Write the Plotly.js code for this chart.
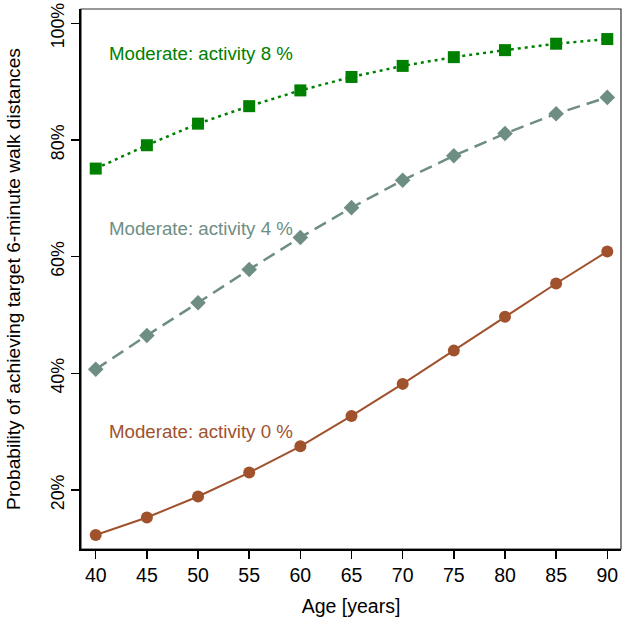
<!DOCTYPE html>
<html>
<head>
<meta charset="utf-8">
<script src="https://cdn.plot.ly/plotly-3.0.1.min.js"></script>
<style>
  html, body { margin: 0; padding: 0; background: #fff; }
  #chart { width: 623px; height: 618px; }
</style>
</head>
<body>
<div id="chart"></div>
<script>
var ages = [40, 45, 50, 55, 60, 65, 70, 75, 80, 85, 90];
var act8 = [0.751, 0.791, 0.828, 0.858, 0.885, 0.908, 0.927, 0.942, 0.954, 0.965, 0.973];
var act4 = [0.407, 0.465, 0.521, 0.578, 0.633, 0.684, 0.731, 0.773, 0.811, 0.845, 0.873];
var act0 = [0.123, 0.153, 0.189, 0.230, 0.275, 0.327, 0.382, 0.439, 0.497, 0.554, 0.609];
var labels = ["Moderate: activity 8 %", "Moderate: activity 4 %", "Moderate: activity 0 %"];
var yTicks = [0.2, 0.4, 0.6, 0.8, 1.0];
var yTickText = ["20%", "40%", "60%", "80%", "100%"];

var green = "#008000";
var teal = "#6e8e84";
var sienna = "#a0522d";

var traces = [
    {
        x: ages, y: act8, type: "scatter", mode: "lines+markers",
        line: { color: green, width: 2.5, dash: "3px,4px" },
        marker: { symbol: "square", size: 12, color: green }
    },
    {
        x: ages, y: act4, type: "scatter", mode: "lines+markers",
        line: { color: teal, width: 2.5, dash: "13px,7px" },
        marker: { symbol: "diamond", size: 12, color: teal }
    },
    {
        x: ages, y: act0, type: "scatter", mode: "lines+markers",
        line: { color: sienna, width: 2 },
        marker: { symbol: "circle", size: 12, color: sienna }
    }
];

var labelY = [0.949, 0.649, 0.300];
var labelColors = [green, teal, sienna];
var annotations = labels.map(function (t, i) {
    return {
        x: 41.07, y: labelY[i], xref: "x", yref: "y",
        text: t, showarrow: false, xanchor: "left", yanchor: "middle",
        font: { size: 18.7, color: labelColors[i] }
    };
});

var layout = {
    width: 623, height: 618,
    margin: { l: 81, r: 2, t: 9, b: 69 },
    paper_bgcolor: "#fff", plot_bgcolor: "#fff",
    showlegend: false,
    font: { family: "Liberation Sans, Arial, sans-serif", color: "#000" },
    xaxis: {
        range: [38.56, 91.34],
        tickvals: ages,
        ticks: "outside", ticklen: 8, tickwidth: 1.5, tickcolor: "#000",
        showgrid: false, zeroline: false,
        showline: true, linecolor: "#000", linewidth: 2,
        tickfont: { size: 19.5 },
        title: { text: "Age [years]", font: { size: 19.5 }, standoff: 14 }
    },
    yaxis: {
        range: [0.099, 1.0245],
        tickvals: yTicks, ticktext: yTickText, tickangle: -90,
        ticklabeloverflow: "allow",
        ticklabelshift: 5,
        ticks: "outside", ticklen: 8, tickwidth: 1.5, tickcolor: "#000",
        showgrid: false, zeroline: false,
        showline: true, linecolor: "#000", linewidth: 2,
        tickfont: { size: 17.8 },
        title: { text: "Probability of achieving target 6-minute walk distances", font: { size: 19.2 }, standoff: 22 }
    },
    shapes: [{
        type: "rect", xref: "paper", yref: "paper", x0: 0, x1: 1, y0: 0, y1: 1,
        line: { color: "#333", width: 1.2 }, layer: "below"
    }],
    annotations: annotations
};

Plotly.newPlot("chart", traces, layout, { staticPlot: true });
</script>
</body>
</html>
